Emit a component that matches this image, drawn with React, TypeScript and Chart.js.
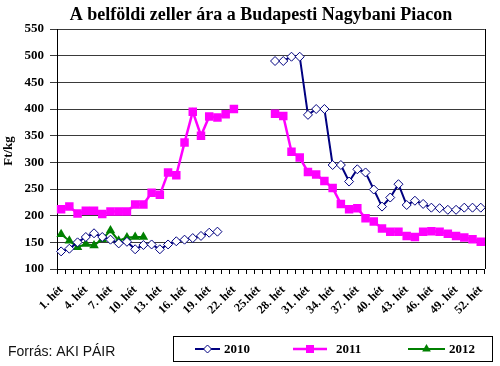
import React, { useEffect, useRef } from "react";
import { Chart, registerables } from "chart.js";

Chart.register(...registerables);

const weeks: string[] = Array.from({ length: 52 }, (_, i) => (i + 1 === 25 ? "25.hét" : `${i + 1}. hét`));

const series2010: (number | null)[] = [
  133, 138, 150, 160, 167, 160, 155, 148, 151, 137, 145, 146, 137, 146, 152, 155, 158, 162, 168, 170,
  null, null, null, null, null, null,
  490, 490, 498, 498, 389, 400, 400, 295, 295, 264, 287, 281, 249, 217, 234, 259, 220, 228, 222, 215,
  214, 211, 211, 215, 215, 215,
];

const series2011: (number | null)[] = [
  212, 217, 204, 209, 209, 203, 208, 208, 208, 221, 221, 243, 239, 281, 276, 337, 395, 350, 386, 384,
  390, 400, null, null, null, null,
  391, 387, 320, 309, 282, 277, 265, 252, 222, 212, 214, 195, 189, 176, 170, 170, 162, 160, 170, 171,
  170, 166, 162, 159, 156, 151,
];

const series2012: (number | null)[] = [
  165, 153, 141, 147, 144, 156, 172, 153, 159, 160, 160,
  ...Array(41).fill(null),
];

const titleText = "A belföldi zeller ára a Budapesti Nagybani Piacon";
const yTitle = "Ft/kg";
const sourceText = "Forrás: AKI PÁIR";
const legendNames = ["2010", "2011", "2012"];

const SERIF = "'Liberation Serif', 'Times New Roman', serif";
const SANS = "'Liberation Sans', Arial, sans-serif";
const NAVY = "#000080";
const MAGENTA = "#FF00FF";
const GREEN = "#008000";

function drawMarker(ctx: CanvasRenderingContext2D, kind: string, x: number, y: number) {
  ctx.save();
  ctx.beginPath();
  if (kind === "diamond") {
    const r = 4;
    ctx.moveTo(x, y - r);
    ctx.lineTo(x + r, y);
    ctx.lineTo(x, y + r);
    ctx.lineTo(x - r, y);
    ctx.closePath();
    ctx.fillStyle = "#fff";
    ctx.fill();
    ctx.strokeStyle = NAVY;
    ctx.lineWidth = 1;
    ctx.stroke();
  } else if (kind === "square") {
    ctx.rect(x - 4, y - 4, 8, 8);
    ctx.fillStyle = MAGENTA;
    ctx.fill();
  } else {
    const r = 5;
    ctx.moveTo(x, y - r);
    ctx.lineTo(x + r * 0.866, y + r * 0.5);
    ctx.lineTo(x - r * 0.866, y + r * 0.5);
    ctx.closePath();
    ctx.fillStyle = GREEN;
    ctx.fill();
  }
  ctx.restore();
}

const decorPlugin = {
  id: "decor",
  afterDraw(chart: any) {
    const ctx: CanvasRenderingContext2D = chart.ctx;
    const a = chart.chartArea;
    ctx.save();
    // plot border
    ctx.strokeStyle = "#000";
    ctx.lineWidth = 1;
    ctx.beginPath();
    ctx.moveTo(Math.round(a.right) + 0.5, a.top);
    ctx.lineTo(Math.round(a.right) + 0.5, a.bottom);
    ctx.stroke();

    // title
    ctx.fillStyle = "#000";
    ctx.font = `bold 18px ${SERIF}`;
    ctx.textAlign = "center";
    ctx.textBaseline = "middle";
    ctx.fillText(titleText, 261, 15);

    // y title
    ctx.save();
    ctx.translate(9, 151);
    ctx.rotate(-Math.PI / 2);
    ctx.font = `bold 13px ${SERIF}`;
    ctx.fillText(yTitle, 0, 0);
    ctx.restore();

    // source
    ctx.font = `14px ${SANS}`;
    ctx.textAlign = "left";
    ctx.fillStyle = "#111";
    ctx.fillText(sourceText, 8, 352);

    // legend box
    ctx.strokeStyle = "#000";
    ctx.lineWidth = 1;
    ctx.strokeRect(173.5, 336.5, 319, 25);
    const items = [
      { color: NAVY, kind: "diamond", x0: 195, x1: 220, tx: 224, lw: 2 },
      { color: MAGENTA, kind: "square", x0: 293, x1: 327, tx: 336, lw: 2.5 },
      { color: GREEN, kind: "triangle", x0: 408, x1: 445, tx: 449, lw: 2 },
    ];
    items.forEach((it, i) => {
      const ly = 349;
      ctx.strokeStyle = it.color;
      ctx.lineWidth = it.lw;
      ctx.beginPath();
      ctx.moveTo(it.x0, ly);
      ctx.lineTo(it.x1, ly);
      ctx.stroke();
      drawMarker(ctx, it.kind, (it.x0 + it.x1) / 2, ly);
      ctx.fillStyle = "#000";
      ctx.font = `bold 13px ${SERIF}`;
      ctx.textAlign = "left";
      ctx.fillText(legendNames[i], it.tx, ly + 1);
    });
    ctx.restore();
  },
};

export default function App() {
  const ref = useRef<HTMLCanvasElement | null>(null);
  useEffect(() => {
    if (!ref.current) return;
    const chart = new Chart(ref.current, {
      type: "line",
      data: {
        labels: weeks,
        datasets: [
          {
            label: legendNames[0],
            data: series2010,
            borderColor: NAVY,
            backgroundColor: "#fff",
            borderWidth: 2,
            pointStyle: "rectRot",
            pointRadius: 4.5,
            pointBorderWidth: 1,
            pointBorderColor: NAVY,
            pointBackgroundColor: "#fff",
            spanGaps: false,
            tension: 0,
          },
          {
            label: legendNames[1],
            data: series2011,
            borderColor: MAGENTA,
            backgroundColor: MAGENTA,
            borderWidth: 2.5,
            pointStyle: "rect",
            pointRadius: 6,
            pointBorderWidth: 0,
            pointBackgroundColor: MAGENTA,
            spanGaps: false,
            tension: 0,
          },
          {
            label: legendNames[2],
            data: series2012,
            borderColor: GREEN,
            backgroundColor: GREEN,
            borderWidth: 2,
            pointStyle: "triangle",
            pointRadius: 5.5,
            pointBorderWidth: 0,
            pointBackgroundColor: GREEN,
            spanGaps: false,
            tension: 0,
          },
        ],
      },
      options: {
        responsive: false,
        animation: false,
        layout: { padding: { left: 0, right: 8, top: 29, bottom: 0 } },
        plugins: {
          legend: { display: false },
          title: { display: false },
          tooltip: { enabled: false },
        },
        scales: {
          x: {
            type: "category",
            offset: true,
            grid: { offset: true, drawOnChartArea: false, drawTicks: true, tickLength: 5, color: "#000" },
            border: { display: true, color: "#000", width: 1 },
            ticks: {
              autoSkip: false,
              maxRotation: 45,
              minRotation: 45,
              padding: 9,
              color: "#000",
              font: { family: SERIF, size: 12, weight: "bold" },
              callback: (_v: any, i: number) => (i % 3 === 0 ? weeks[i] : ""),
            },
            afterFit: (s: any) => {
              s.height = 97;
            },
          },
          y: {
            min: 100,
            max: 550,
            grid: { color: "#3a3a3a", lineWidth: 1, tickLength: 7 },
            border: { display: true, color: "#000", width: 1 },
            ticks: {
              stepSize: 50,
              padding: 6,
              color: "#000",
              font: { family: SERIF, size: 13, weight: "bold" },
            },
            afterFit: (s: any) => {
              s.width = 57;
            },
          },
        },
      },
      plugins: [decorPlugin],
    } as any);
    return () => chart.destroy();
  }, []);
  return (
    <div style={{ position: "absolute", left: 0, top: 0, width: 500, height: 366, background: "#fff" }}>
      <canvas ref={ref} width={500} height={366} />
    </div>
  );
}
